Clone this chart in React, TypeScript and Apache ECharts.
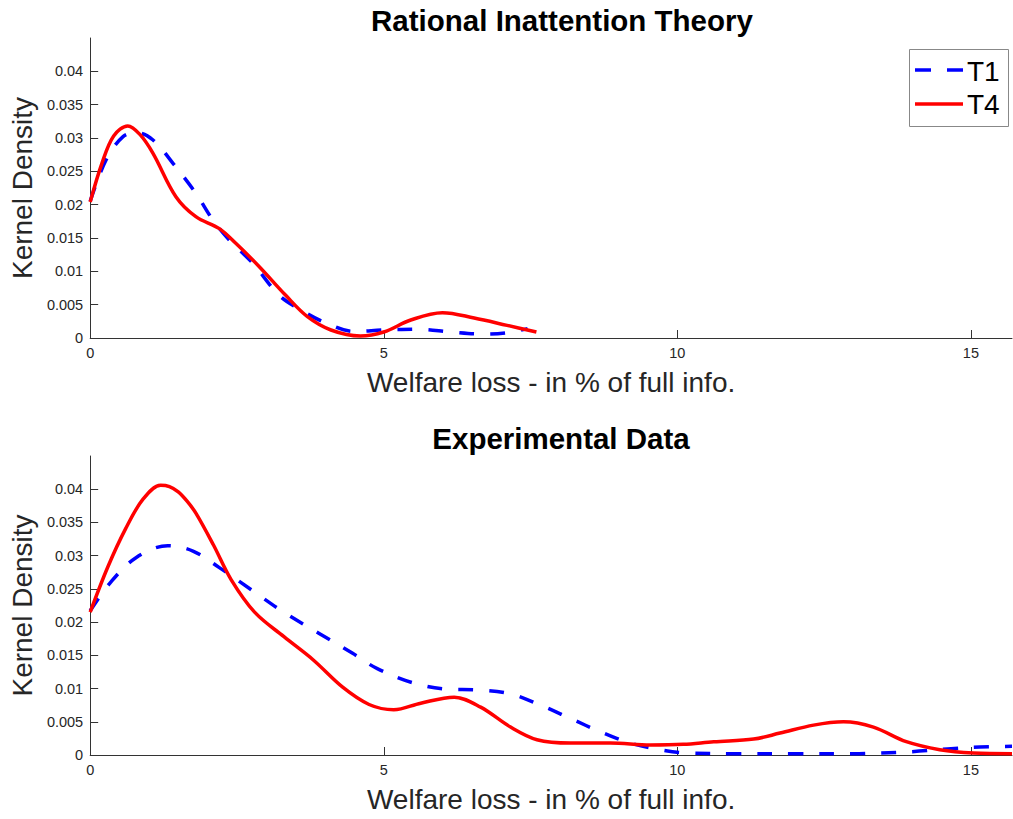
import React, { useEffect, useRef } from "react";
import * as echarts from "echarts";

const topT1: [number, number][] = [
  [0, 0.0205], [0.27, 0.0267], [0.56, 0.0302], [0.8, 0.0308], [1.07, 0.0297],
  [1.41, 0.0262], [1.8, 0.0217], [2.09, 0.0177], [2.37, 0.0147], [2.77, 0.0112],
  [3.22, 0.0064], [3.59, 0.0042], [3.98, 0.0024], [4.49, 0.001], [5.0, 0.0012],
  [5.6, 0.0013], [6.14, 0.0009], [6.68, 0.0006], [7.1, 0.0008], [7.45, 0.0014],
];
const topT4: [number, number][] = [
  [0, 0.0204], [0.2, 0.0262], [0.4, 0.0303], [0.64, 0.0318], [0.85, 0.0305],
  [1.07, 0.0277], [1.46, 0.0212], [1.8, 0.0182], [2.2, 0.0164], [2.48, 0.0142],
  [2.88, 0.0107], [3.33, 0.0064], [3.7, 0.0032], [4.1, 0.0012], [4.6, 0.0003],
  [5.0, 0.0009], [5.46, 0.0027], [6.0, 0.0038], [6.54, 0.003], [7.1, 0.0019],
  [7.6, 0.0009],
];
const botT1: [number, number][] = [
  [0, 0.0217], [0.33, 0.0258], [0.78, 0.0297], [1.32, 0.0315], [1.75, 0.0307],
  [2.2, 0.0282], [2.77, 0.0247], [3.33, 0.0213], [3.9, 0.0183], [4.47, 0.0153],
  [4.89, 0.013], [5.52, 0.0108], [6.08, 0.0099], [6.59, 0.0098], [7.16, 0.0092],
  [7.67, 0.0075], [8.18, 0.0055], [8.69, 0.0035], [9.2, 0.0018], [9.71, 0.0008],
  [10.16, 0.0003], [11, 0.0002], [12, 0.0002], [13, 0.0002], [13.45, 0.0003],
  [14.0, 0.0005], [14.6, 0.0009], [15.15, 0.0012], [15.7, 0.0013],
];
const botT4: [number, number][] = [
  [0, 0.0215], [0.3, 0.0283], [0.6, 0.034], [0.9, 0.0385], [1.2, 0.0406],
  [1.35, 0.0404], [1.5, 0.0396], [1.65, 0.0382], [1.8, 0.0364], [2.1, 0.0316],
  [2.4, 0.0264], [2.8, 0.0215], [3.3, 0.0178], [3.8, 0.0143], [4.3, 0.0102],
  [4.75, 0.0076], [5.17, 0.0068], [5.63, 0.0078], [6.2, 0.0087], [6.65, 0.0072],
  [7.16, 0.0042], [7.61, 0.0023], [8.18, 0.0018], [8.86, 0.0018], [9.54, 0.0015],
  [10.1, 0.0016], [10.62, 0.002], [11.3, 0.0024], [11.75, 0.0033], [12.32, 0.0045],
  [12.83, 0.005], [13.34, 0.0042], [13.9, 0.002], [14.47, 0.0008], [15.04, 0.0003],
  [15.7, 0.0002],
];

const xTicks = [0, 5, 10, 15];
const yTicks = [0, 0.005, 0.01, 0.015, 0.02, 0.025, 0.03, 0.035, 0.04];
const titles = ["Rational Inattention Theory", "Experimental Data"];
const xName = "Welfare loss - in % of full info.";
const yName = "Kernel Density";
const seriesNames = ["T1", "T4"];

const FONT = "'Liberation Sans', Helvetica, Arial, sans-serif";
const AXIS_COLOR = "#333333";
const TEXT_COLOR = "#262626";
const BLUE = "#0000ff";
const RED = "#ff0000";

export default function App() {
  const ref = useRef<HTMLDivElement>(null);
  useEffect(() => {
    if (!ref.current) return;
    const chart = echarts.init(ref.current, undefined, { renderer: "svg" });
    const xAxis = (gridIndex: number) => ({
      type: "value",
      gridIndex,
      min: 0,
      max: 15.7,
      interval: 5,
      name: xName,
      nameLocation: "middle",
      nameGap: 30,
      nameTextStyle: { fontFamily: FONT, fontSize: 28, color: TEXT_COLOR },
      axisLine: { show: true, lineStyle: { color: AXIS_COLOR, width: 1 } },
      axisTick: { show: true, inside: true, length: 8, customValues: xTicks, lineStyle: { color: AXIS_COLOR } },
      axisLabel: { customValues: xTicks, fontFamily: FONT, fontSize: 14.5, color: TEXT_COLOR, margin: 7 },
      splitLine: { show: false },
    });
    const yAxis = (gridIndex: number) => ({
      type: "value",
      gridIndex,
      min: 0,
      max: 0.045,
      interval: 0.005,
      name: yName,
      nameLocation: "middle",
      nameGap: 54,
      nameTextStyle: { fontFamily: FONT, fontSize: 28, color: TEXT_COLOR },
      axisLine: { show: true, lineStyle: { color: AXIS_COLOR, width: 1 } },
      axisTick: { show: true, inside: true, length: 8, customValues: yTicks, lineStyle: { color: AXIS_COLOR } },
      axisLabel: {
        customValues: yTicks,
        fontFamily: FONT,
        fontSize: 14.5,
        color: TEXT_COLOR,
        margin: 7,
        formatter: (v: number) => String(parseFloat(v.toFixed(4))),
      },
      splitLine: { show: false },
    });
    const mk = (name: string, data: [number, number][], idx: number, dashed: boolean) => ({
      type: "line",
      name,
      data,
      xAxisIndex: idx,
      yAxisIndex: idx,
      symbol: "none",
      smooth: 0.35,
      lineStyle: dashed
        ? { color: BLUE, width: 3.5, type: [15, 16], cap: "butt" }
        : { color: RED, width: 3.5 },
      itemStyle: { color: dashed ? BLUE : RED },
    });
    chart.setOption({
      animation: false,
      backgroundColor: "#ffffff",
      title: [
        {
          text: titles[0],
          left: 557,
          top: 0,
          textAlign: "center",
          textStyle: { fontFamily: FONT, fontSize: 29.5, fontWeight: "bold", color: "#000" },
        },
        {
          text: titles[1],
          left: 556,
          top: 418,
          textAlign: "center",
          textStyle: { fontFamily: FONT, fontSize: 29.5, fontWeight: "bold", color: "#000" },
        },
      ],
      graphic: [
        {
          type: "rect",
          shape: { x: 909.5, y: 49.5, width: 99, height: 77 },
          style: { fill: "#ffffff", stroke: "#888888", lineWidth: 1 },
          z: 10,
        },
        {
          type: "line",
          shape: { x1: 915, y1: 70, x2: 963, y2: 70 },
          style: { stroke: BLUE, lineWidth: 3.5, lineDash: [16, 16] },
          z: 11,
        },
        {
          type: "line",
          shape: { x1: 915, y1: 104, x2: 963, y2: 104 },
          style: { stroke: RED, lineWidth: 3.5 },
          z: 11,
        },
        {
          type: "text",
          x: 967,
          y: 71,
          style: { text: seriesNames[0], font: `28px ${FONT}`, fill: "#000", verticalAlign: "middle" },
          z: 11,
        },
        {
          type: "text",
          x: 967,
          y: 104,
          style: { text: seriesNames[1], font: `28px ${FONT}`, fill: "#000", verticalAlign: "middle" },
          z: 11,
        },
      ],
      grid: [
        { left: 89, top: 38, right: 1, height: 300 },
        { left: 89, top: 456, right: 1, height: 299 },
      ],
      xAxis: [xAxis(0), xAxis(1)],
      yAxis: [yAxis(0), yAxis(1)],
      series: [
        mk(seriesNames[0], topT1, 0, true),
        mk(seriesNames[1], topT4, 0, false),
        mk(seriesNames[0], botT1, 1, true),
        mk(seriesNames[1], botT4, 1, false),
      ],
    });
    return () => chart.dispose();
  }, []);
  return (
    <div
      ref={ref}
      style={{ position: "absolute", left: 0, top: 0, width: 1013, height: 819 }}
    />
  );
}
